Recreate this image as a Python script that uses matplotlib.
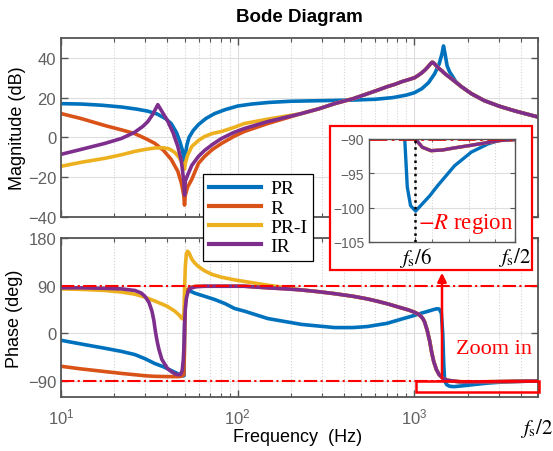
import matplotlib
matplotlib.use('Agg')
import matplotlib.pyplot as plt
import numpy as np
from matplotlib.patches import Rectangle, FancyArrowPatch

plt.rcParams['font.family'] = ['Liberation Sans', 'DejaVu Sans']
plt.rcParams['mathtext.fontset'] = 'stix'

fs = 10000.0
labels = ['PR', 'R', 'PR-I', 'IR']
colors = ['#0072BD', '#D95319', '#EDB120', '#7E2F8E']

# ---- magnitude (dB) ----
freq_mag_pr = [10, 13, 17, 22, 27, 31, 35, 39, 42, 45, 47, 48.5, 49.5, 50, 50.5, 51.5, 53, 56, 60, 66,
               74, 85, 100, 120, 150, 200, 300, 450, 600, 750, 900, 1000, 1100, 1200, 1300, 1380, 1430,
               1460, 1490, 1530, 1580, 1640, 1700, 1770, 1845, 2100, 2486, 3000, 3400, 3818, 4300, 4895, 5000]
mag_pr = [17, 16.8, 16.2, 15.3, 14.2, 13.2, 11.8, 9.5, 7, 2.5, -2, -6, -10, -12, -9, -4, 0, 3.5, 6.5, 9.5,
          12, 14, 15.8, 16.8, 17.6, 18.2, 18.5, 18.8, 19.2, 20, 21.3, 22.5, 24.5, 27.5, 32, 37, 42,
          46, 42, 36, 33, 30.8, 28.5, 26.8, 25.5, 22, 18.5, 15.8, 14.3, 13, 11.8, 10.5, 10.2]

freq_mag_r = [10, 13, 17.7, 22, 26, 30, 34, 38, 42, 45.8, 48, 49.5, 50, 50.5, 52, 55, 60, 65, 72, 81, 95, 109, 148]
mag_r = [12, 9.5, 6, 3.8, 2, -0.5, -3, -6.5, -11, -17, -23, -29, -34, -29, -25, -21, -13, -9.5, -6, -3, 0.5, 3, 7]

freq_mag_pri = [10, 13, 17.7, 22, 26.2, 30, 34, 38, 41, 44, 46.5, 48.5, 50, 50.5, 52, 55, 60, 65, 72, 81, 95, 109, 148]
mag_pri = [-14.5, -12.5, -10.5, -8.7, -7, -6, -5.3, -5.2, -5.8, -7.5, -10, -13, -16, -13, -9, -4.5, -1.5, 0.5, 2, 3, 5, 7, 9.2]

freq_mag_ir = [10, 13, 17.7, 22, 26, 29, 31, 33, 35.3, 37, 40, 43, 45.8, 48, 49.5, 50, 50.5, 52, 55, 60,
               65, 72, 81, 95, 109, 148]
mag_ir = [-8.5, -6, -3, -0.5, 2.5, 5.5, 8, 11.5, 16.5, 13.5, 8.5, 2.5, -4.5, -12, -22, -29, -22, -19, -14, -9.5,
          -6.5, -3.5, -0.5, 2.5, 4.5, 8]

# R, PR-I and IR lie on top of each other above ~200 Hz
freq_mag_hf = [229, 290, 353, 450, 543, 620, 700, 780, 845, 920, 1000, 1050, 1100, 1150, 1200, 1240, 1259, 1280,
               1330, 1380, 1430, 1480, 1540, 1620, 1700, 1770, 1845, 2100, 2486, 3000, 3400, 3818, 4300, 4895, 5000]
mag_hf = [12, 14.5, 17, 19.5, 22, 23.8, 25.5, 26.8, 28, 29, 30, 31.2, 32.5, 34, 35.8, 37.3, 37.8, 37.6,
          36, 34.6, 33.5, 32.2, 31, 29.5, 28, 26.8, 25.5, 22, 18.5, 15.8, 14.3, 13, 11.8, 10.5, 10.2]

# ---- phase (deg) ----
freq_ph_pr = [10, 13, 17.7, 22, 26.2, 30, 34, 38, 42, 45.8, 48, 49.6, 50.2, 50.8, 52, 57, 65, 74, 85, 96,
              109, 148, 229, 353, 450, 543, 700, 845, 1000, 1090, 1200, 1285, 1340, 1380, 1420, 1445, 1465, 1483,
              1525, 1581, 1672, 1768, 1950, 2131, 2567, 3092, 3725, 4321, 5000]
ph_pr = [-13, -20, -28, -34, -40, -48, -57, -63, -70, -76, -80, -80, 40, 80, 82, 76, 70, 64, 56, 47,
         42, 28, 17, 11, 11, 13, 19, 27, 34, 38, 42, 45, 46.5, 46, 38, 0, -60, -90,
         -97, -99.7, -100.5, -99.7, -98.3, -96.8, -93.9, -91.9, -90.7, -90.1, -90]

freq_ph_r = [10, 13, 17.7, 22, 26.2, 30, 34, 40, 45.8, 48, 49.5, 49.9, 50.3, 51, 54, 58, 65, 109]
ph_r = [-62, -67, -72, -75.5, -78, -80, -81, -81.5, -81.5, -81, -78, -40, 40, 80, 87, 89, 89, 89]

freq_ph_pri = [10, 13, 17.7, 22, 26.2, 30, 34, 40, 44, 46.5, 48, 49, 49.6, 50, 50.5, 51.2, 52, 53, 55, 57,
               60, 65, 72, 81, 96, 109, 148]
ph_pri = [84, 83, 81, 78, 74, 68, 61, 51, 42, 35, 29, 27, 40, 80, 125, 150, 155, 152, 140, 133,
          126, 118, 111, 106, 101, 98, 91]

freq_ph_ir = [10, 13, 17.7, 22, 26.2, 28.5, 30, 31.5, 32.7, 33.5, 34.2, 35, 35.8, 37.2, 40, 42, 44, 46, 47.5, 48.5,
              49.2, 49.7, 50, 50.5, 51.2, 52.5, 54, 58, 65, 109]
ph_ir = [86, 86, 85, 84, 81, 76, 69, 58, 42, 25, 4, -15, -30, -49, -66, -72, -76, -78, -77, -70,
         -50, -20, 17, 45, 66, 80, 85, 88, 89, 89]

freq_ph_hf = [148, 190, 229, 290, 353, 450, 543, 620, 700, 770, 845, 920, 1000, 1050, 1090, 1115, 1140, 1180, 1220,
              1250, 1285, 1330, 1380, 1450, 1540, 1667, 1800, 1978, 2250, 2560, 3100, 3725, 4300, 5000]
ph_hf = [86, 84, 82, 78.5, 75, 70, 65, 60.5, 56, 52, 48, 44.5, 40, 36.5, 32, 28, 22, 6, -15,
         -35, -53, -68, -78, -85, -88.5, -90, -91.2, -91.7, -91.6, -91.3, -90.9, -90.5, -90.2, -90.1]

mag_f = [freq_mag_pr, freq_mag_r + freq_mag_hf, freq_mag_pri + freq_mag_hf, freq_mag_ir + freq_mag_hf]
mag_v = [mag_pr, mag_r + mag_hf, mag_pri + mag_hf, mag_ir + mag_hf]
ph_f = [freq_ph_pr, freq_ph_r + freq_ph_hf, freq_ph_pri + freq_ph_hf[2:], freq_ph_ir + freq_ph_hf]
ph_v = [ph_pr, ph_r + ph_hf, ph_pri + ph_hf[2:], ph_ir + ph_hf]

W, H = 553, 452
fig = plt.figure(figsize=(W / 100, H / 100), dpi=100)

def box(x0, y0, x1, y1):
    # pixel box (top-left origin) -> figure fraction rect
    return [x0 / W, 1 - y1 / H, (x1 - x0) / W, (y1 - y0) / H]

ax1 = fig.add_axes(box(61, 39, 538, 218))
ax2 = fig.add_axes(box(61, 239, 538, 398))

spine_c = '#555555'
tick_c = '#606060'

def style(ax):
    ax.set_xscale('log')
    ax.set_xlim(10, fs / 2)
    ax.grid(True, which='major', color='#dedede', lw=0.8)
    ax.grid(True, which='minor', axis='x', color='#d4d4d4', ls=':', lw=0.8)
    ax.tick_params(which='both', direction='in', top=True, right=True, colors=spine_c,
                   labelcolor=tick_c, labelsize=12)
    ax.tick_params(which='major', length=5, width=1)
    ax.tick_params(which='minor', length=3, width=0.8)
    for s in ax.spines.values():
        s.set_color(spine_c)
        s.set_linewidth(1.3)
    ax.set_axisbelow(True)

for f, v, c, lab in zip(mag_f, mag_v, colors, labels):
    ax1.plot(f, v, color=c, lw=2.6, label=lab)
for f, v, c in zip(ph_f, ph_v, colors):
    ax2.plot(f, v, color=c, lw=2.6)

style(ax1)
style(ax2)
ax1.set_ylim(-40, 50)
ax1.set_yticks([-40, -20, 0, 20, 40])
ax1.tick_params(labelbottom=False)
ax2.set_ylim(-120, 180)
ax2.set_yticks([-90, 0, 90, 180])
ax2.set_xticks([10, 100, 1000])
ax2.tick_params(axis='x', pad=7)

ax2.axhline(90, color='red', ls='-.', lw=1.5)
ax2.axhline(-90, color='red', ls='-.', lw=1.5)

ax1.set_ylabel('Magnitude (dB)', fontsize=13)
ax2.set_ylabel('Phase (deg)', fontsize=13)
ax1.yaxis.set_label_coords(-0.074, 0.5)
ax2.yaxis.set_label_coords(-0.08, 0.5)
fig.text(298 / W, 1 - 438 / H, 'Frequency  (Hz)', ha='center', va='center', fontsize=13)
fig.text(299.5 / W, 1 - 17 / H, 'Bode Diagram', ha='center', va='center', fontsize=13.5, weight='bold')
fig.text(537 / W, 1 - 429 / H, r'$f_{\mathrm{s}}/2$', ha='center', va='center', fontsize=15)

# zoomed view of the -R region
frame = Rectangle((330 / W, 1 - 271 / H), 202 / W, 144 / H, transform=fig.transFigure,
                  fc='white', ec='red', lw=1.6, zorder=3)
fig.add_artist(frame)

axin = fig.add_axes(box(369, 140, 515, 243), zorder=4)
for f, v, c in zip(ph_f, ph_v, colors):
    axin.plot(f, v, color=c, lw=2.4)
axin.set_xscale('log')
axin.set_xlim(1000, fs / 2)
axin.set_ylim(-105, -90)
axin.set_yticks([-105, -100, -95, -90])
axin.set_xticks([fs / 6, fs / 2])
axin.set_xticklabels([r'$f_{\mathrm{s}}/6$', r'$f_{\mathrm{s}}/2$'])
axin.xaxis.set_minor_formatter(plt.NullFormatter())
axin.grid(True, which='major', color='#dedede', lw=0.8)
axin.grid(True, which='minor', axis='x', color='#d4d4d4', ls=':', lw=0.8)
axin.tick_params(which='both', direction='in', top=True, right=True, colors=spine_c, labelcolor=tick_c, labelsize=10)
axin.tick_params(axis='x', labelcolor='black', labelsize=15, pad=2)
for s in axin.spines.values():
    s.set_color(spine_c)
    s.set_linewidth(1.0)
axin.axhline(-90, color='red', ls='-.', lw=2.0)
axin.axvline(fs / 6, color='black', ls=':', lw=1.8, zorder=5)
axin.text(fs / 6 * 1.03, -102.2, r'$-R$ region', color='red', fontsize=16.5, va='center', ha='left',
          family=['Liberation Serif'])

# zoom marker in the phase plot and arrow up to the enlarged view
fig.add_artist(Rectangle((416 / W, 1 - 393 / H), 123 / W, 11 / H, transform=fig.transFigure,
                         fc='none', ec='red', lw=1.8, zorder=6))
fig.add_artist(FancyArrowPatch((442 / W, 1 - 382 / H), (442 / W, 1 - 271 / H), transform=fig.transFigure,
                               arrowstyle='-|>', mutation_scale=13, color='red', lw=1.8, zorder=6))
fig.text(494 / W, 1 - 349 / H, 'Zoom in', color='red', fontsize=16, ha='center', va='center',
         family=['Liberation Serif'], zorder=6)

leg = fig.legend(loc='upper left', bbox_to_anchor=(203 / W, 1 - 175 / H), prop={'family': 'Liberation Serif', 'size': 14},
                 handlelength=2.7, handletextpad=0.45, borderpad=0.3, labelspacing=0.08,
                 fancybox=False, framealpha=1, edgecolor='black', borderaxespad=0)
leg.get_frame().set_linewidth(0.9)
for h in leg.get_lines():
    h.set_linewidth(3.0)

fig.savefig('out.png', dpi=100)
